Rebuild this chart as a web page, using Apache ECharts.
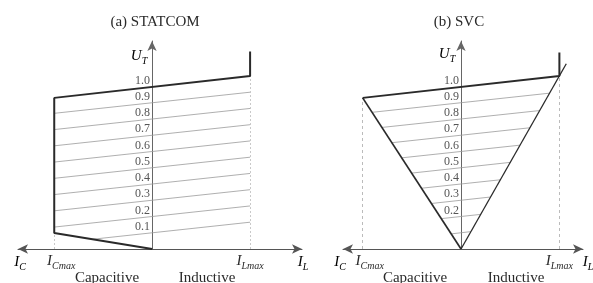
<!DOCTYPE html>
<html>
<head>
<meta charset="utf-8">
<script src="https://cdn.jsdelivr.net/npm/echarts@6/dist/echarts.min.js"></script>
<style>
  html, body { margin: 0; padding: 0; background: #fff; }
  #main { width: 593px; height: 283px; }
</style>
</head>
<body>
<div id="main"></div>
<script>
// U_T tick labels (p.u.)
var statcomTicks = [0.1, 0.2, 0.3, 0.4, 0.5, 0.6, 0.7, 0.8, 0.9, 1.0];
var svcTicks = [0.2, 0.3, 0.4, 0.5, 0.6, 0.7, 0.8, 0.9, 1.0];
// current ticks: I_Cmax = -1, I_Lmax = +1
var currentTicks = [-1, 1];
var currentNames = ['Cmax', 'Lmax'];

// (a) STATCOM: heavy boundary, [I, U_T]
var statcomBound = [[0, 0], [-1, 0.098], [-1, 0.93], [1, 1.065], [1, 1.215]];
// thin characteristic lines 0.9 ... 0.1
var statcomHatchFrom = [[-1, 0.835], [-1, 0.735], [-1, 0.635], [-1, 0.535], [-1, 0.435],
                        [-1, 0.335], [-1, 0.235], [-1, 0.135], [-0.61, 0.06]];
var statcomHatchTo = [[1, 0.965], [1, 0.865], [1, 0.765], [1, 0.665], [1, 0.565],
                      [1, 0.465], [1, 0.365], [1, 0.265], [1, 0.165]];
var statcomGuides = [[[-1, 0], [-1, 0.098]], [[1, 0], [1, 1.065]]];

// (b) SVC
var svcTop = [[-1, 0.93], [1, 1.065], [1, 1.21]];
var svcCap = [[-1, 0.93], [0, 0]];
var svcInd = [[0, 0], [1.07, 1.14]];
var svcHatchFrom = [[-0.905, 0.841], [-0.804, 0.748], [-0.704, 0.654], [-0.603, 0.561], [-0.503, 0.467],
                    [-0.402, 0.374], [-0.302, 0.28], [-0.201, 0.187], [-0.1, 0.093]];
var svcHatchTo = [[0.9, 0.959], [0.8, 0.852], [0.7, 0.746], [0.6, 0.639], [0.5, 0.533],
                  [0.4, 0.426], [0.3, 0.32], [0.2, 0.213], [0.1, 0.107]];
var svcGuides = [[[-1, 0], [-1, 0.93]], [[1, 0], [1, 1.065]]];

var serif = 'Liberation Serif';
var ink = '#2a2a2a';

var mathRich = {
    i: { fontFamily: serif, fontStyle: 'italic', fontSize: 15, lineHeight: 20, verticalAlign: 'middle', color: ink },
    ip: { fontFamily: serif, fontStyle: 'italic', fontSize: 15, lineHeight: 20, verticalAlign: 'middle', color: ink, padding: [0, 0, 0, 14] },
    s: { fontFamily: serif, fontStyle: 'italic', fontSize: 10, verticalAlign: 'bottom', color: ink }
};

function segs(from, to) {
    var out = [];
    for (var i = 0; i < from.length; i++) out.push({ coords: [from[i], to[i]] });
    return out;
}
function guideSegs(g) {
    return g.map(function (c) { return { coords: c }; });
}

function xAxisFor(idx, min, max) {
    return {
        type: 'value', gridIndex: idx, min: min, max: max,
        axisLine: { onZero: true, symbol: ['arrow', 'arrow'], symbolSize: [7, 10], lineStyle: { color: '#555', width: 1 } },
        axisTick: { show: false },
        splitLine: { show: false },
        axisLabel: {
            customValues: currentTicks, margin: 2,
            formatter: function (v) {
                var k = currentTicks.indexOf(v);
                return (k === 0 ? '{ip|I}' : '{i|I}') + '{s|' + currentNames[k] + '}';
            },
            rich: mathRich
        }
    };
}
// the U_T axis sits at I = 0, i.e. shifted right from the grid's left edge
function yAxisFor(idx, ticks, shift) {
    return {
        type: 'value', gridIndex: idx, min: 0, max: 1.28, offset: -shift,
        axisLine: { onZero: false, symbol: ['none', 'arrow'], symbolSize: [7, 10], lineStyle: { color: '#666', width: 1 } },
        axisTick: { show: false },
        splitLine: { show: false },
        axisLabel: {
            customValues: ticks, margin: 2, verticalAlign: 'bottom',
            fontFamily: serif, fontSize: 12, color: '#555',
            formatter: function (v) { return v.toFixed(1); }
        }
    };
}

function txt(x, y, text, size) {
    return { type: 'text', x: x, y: y, style: { text: text, fontFamily: serif, fontSize: size || 15, fill: ink, align: 'center', verticalAlign: 'middle' } };
}
function mtxt(x, y, text) {
    return { type: 'text', x: x, y: y, style: { text: text, rich: mathRich, align: 'center', verticalAlign: 'middle' } };
}

var myChart = echarts.init(document.getElementById('main'));
var option = {
    animation: false,
    backgroundColor: '#fff',
    grid: [
        { left: 18, right: 291, top: 41, bottom: 34 },
        { left: 343, right: 10, top: 41, bottom: 34 }
    ],
    xAxis: [xAxisFor(0, -1.37, 1.53), xAxisFor(1, -1.2, 1.24)],
    yAxis: [yAxisFor(0, statcomTicks, 134), yAxisFor(1, svcTicks, 118)],
    graphic: [
        txt(155, 22, '(a) STATCOM'),
        txt(459, 22, '(b) SVC'),
        mtxt(139, 56, '{i|U}{s|T}'),
        mtxt(447, 54, '{i|U}{s|T}'),
        mtxt(20, 262, '{i|I}{s|C}'),
        mtxt(303, 262, '{i|I}{s|L}'),
        mtxt(340, 262, '{i|I}{s|C}'),
        mtxt(588, 262, '{i|I}{s|L}'),
        txt(107, 278, 'Capacitive'),
        txt(207, 278, 'Inductive'),
        txt(415, 278, 'Capacitive'),
        txt(516, 278, 'Inductive')
    ],
    series: [
        { type: 'lines', coordinateSystem: 'cartesian2d', xAxisIndex: 0, yAxisIndex: 0, silent: true,
          data: segs(statcomHatchFrom, statcomHatchTo), lineStyle: { color: '#9a9a9a', width: 0.8, opacity: 1 } },
        { type: 'lines', coordinateSystem: 'cartesian2d', xAxisIndex: 0, yAxisIndex: 0, silent: true,
          data: guideSegs(statcomGuides), lineStyle: { color: '#bbb', width: 0.8, type: [2, 2], opacity: 1 } },
        { type: 'line', xAxisIndex: 0, yAxisIndex: 0, data: statcomBound, symbol: 'none', z: 5,
          lineStyle: { color: ink, width: 2 } },

        { type: 'lines', coordinateSystem: 'cartesian2d', xAxisIndex: 1, yAxisIndex: 1, silent: true,
          data: segs(svcHatchFrom, svcHatchTo), lineStyle: { color: '#9a9a9a', width: 0.8, opacity: 1 } },
        { type: 'lines', coordinateSystem: 'cartesian2d', xAxisIndex: 1, yAxisIndex: 1, silent: true,
          data: guideSegs(svcGuides), lineStyle: { color: '#aaa', width: 0.8, type: [3, 3], opacity: 1 } },
        { type: 'line', xAxisIndex: 1, yAxisIndex: 1, data: svcTop, symbol: 'none', z: 5,
          lineStyle: { color: ink, width: 2 } },
        { type: 'line', xAxisIndex: 1, yAxisIndex: 1, data: svcCap, symbol: 'none', z: 5,
          lineStyle: { color: ink, width: 1.7 } },
        { type: 'line', xAxisIndex: 1, yAxisIndex: 1, data: svcInd, symbol: 'none', z: 5,
          lineStyle: { color: ink, width: 1.3 } }
    ]
};
myChart.setOption(option);
</script>
</body>
</html>
